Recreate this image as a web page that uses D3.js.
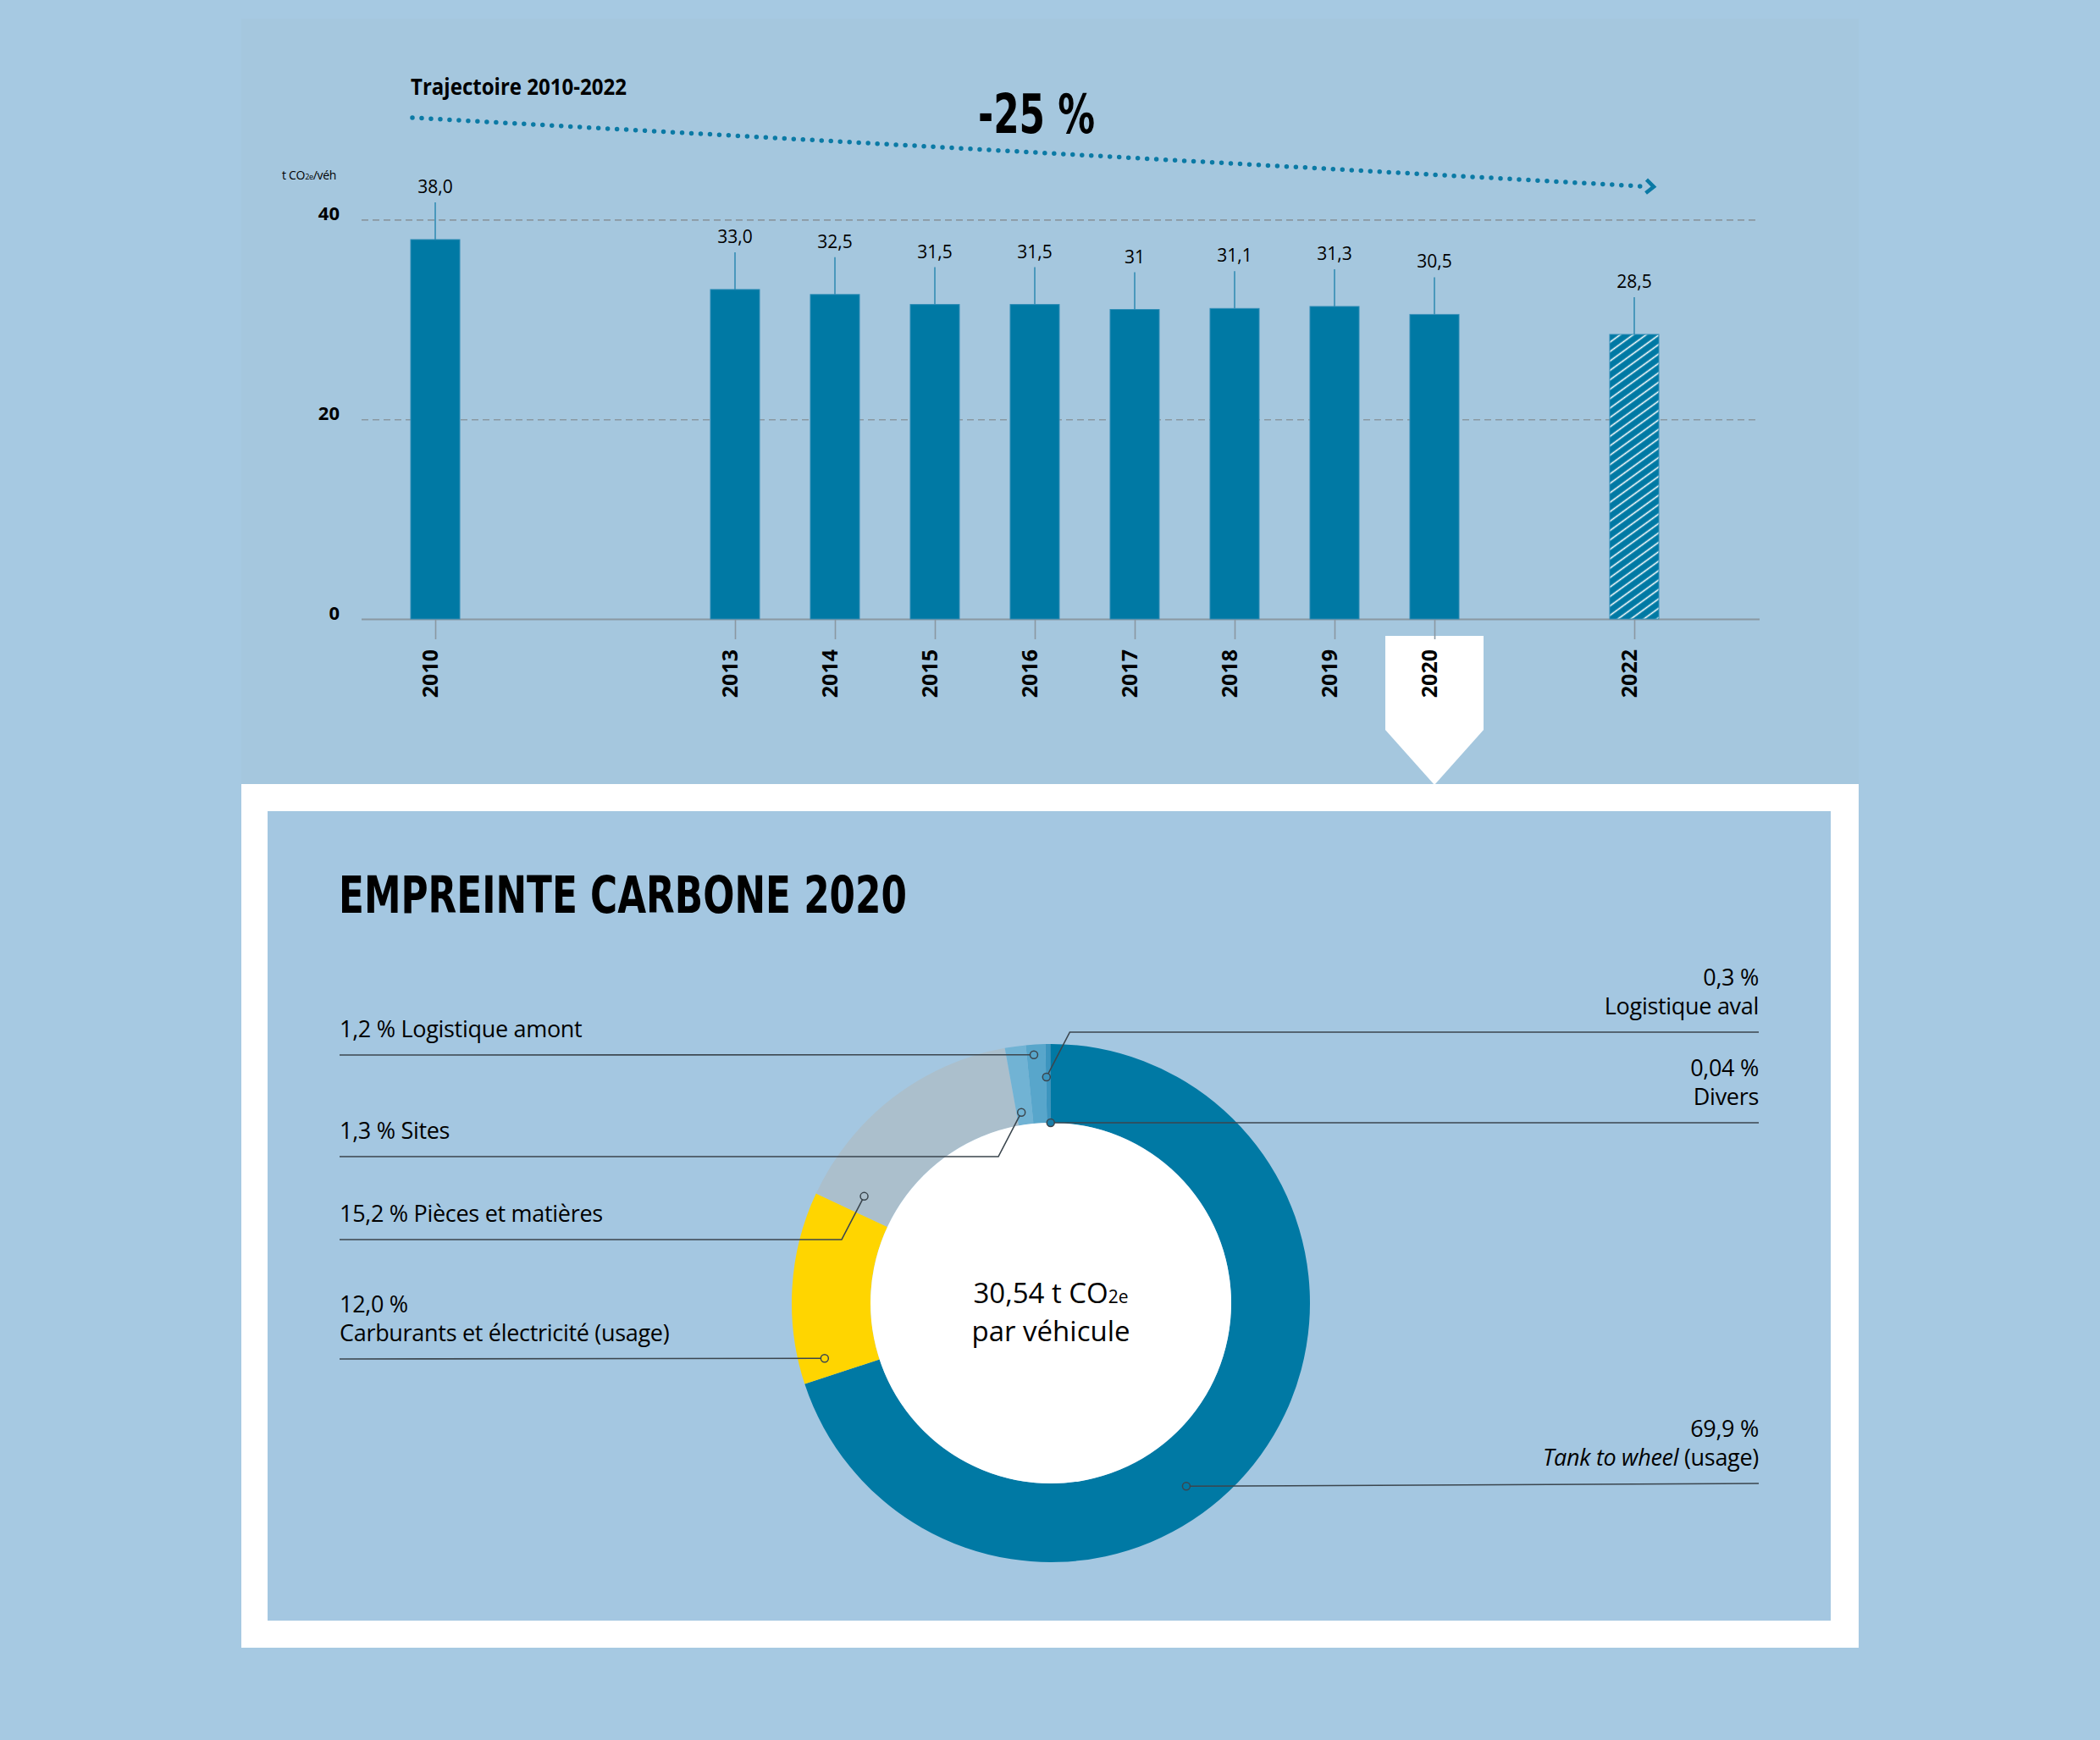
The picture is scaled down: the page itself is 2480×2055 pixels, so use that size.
<!DOCTYPE html>
<html>
<head>
<meta charset="utf-8">
<script src="https://cdnjs.cloudflare.com/ajax/libs/d3/7.8.5/d3.min.js"></script>
<style>
  body { margin: 0; background: #a6c9e2; overflow: hidden; }
  text { font-family: "Open Sans", "Noto Sans", sans-serif; fill: #000; }
  .narrow { font-family: "Liberation Sans Narrow", "DejaVu Sans Condensed", "Open Sans", sans-serif; font-weight: bold; }
</style>
</head>
<body>
<div id="chart"></div>
<script>
// bar chart data (t CO2e per vehicle)
let years = [2010, 2013, 2014, 2015, 2016, 2017, 2018, 2019, 2020, 2022];
let values = [38.0, 33.0, 32.5, 31.5, 31.5, 31, 31.1, 31.3, 30.5, 28.5];
let valueLabels = ["38,0", "33,0", "32,5", "31,5", "31,5", "31", "31,1", "31,3", "30,5", "28,5"];
let yTicks = [0, 20, 40];
let yTickLabels = ["0", "20", "40"];
let targetYear = 2022;
let focusYear = 2020;

// donut data (share of 2020 footprint, %)
let sliceNames = [
  "Tank to wheel (usage)",
  "Carburants et électricité (usage)",
  "Pièces et matières",
  "Sites",
  "Logistique amont",
  "Logistique aval",
  "Divers"
];
let sliceShares = [69.9, 12.0, 15.2, 1.3, 1.2, 0.3, 0.04];
let sliceLabels = ["69,9 %", "12,0 %", "15,2 %", "1,3 %", "1,2 %", "0,3 %", "0,04 %"];

let svgWidth = 2480;
let svgHeight = 2055;

let svg = d3
  .select("#chart")
  .append("svg")
  .attr("width", svgWidth)
  .attr("height", svgHeight);

// backgrounds
svg.append("rect").attr("width", svgWidth).attr("height", svgHeight).attr("fill", "#a6c9e2");
svg.append("rect").attr("x", 285).attr("y", 22).attr("width", 1910).attr("height", 904).attr("fill", "#a5c7de");

// hatch pattern for the 2022 target
let defs = svg.append("defs");
let hatch = defs
  .append("pattern")
  .attr("id", "hatch")
  .attr("patternUnits", "userSpaceOnUse")
  .attr("width", 20)
  .attr("height", 9)
  .attr("patternTransform", "rotate(-36)");
hatch.append("rect").attr("width", 20).attr("height", 9).attr("fill", "#0079a4");
hatch
  .append("line")
  .attr("x1", 0).attr("x2", 20).attr("y1", 4.5).attr("y2", 4.5)
  .attr("stroke", "#fff")
  .attr("stroke-width", 1.6);

// scales
let xScale = d3.scaleLinear().domain([2010, 2022]).range([514, 1930]);
let yScale = d3.scaleLinear().domain([0, 40]).range([731, 259.4]);
let barWidth = 58;
let gridLeft = 427;
let gridRight = 2078;

// white frame of the lower block + pointer from 2020
svg.append("rect").attr("x", 285).attr("y", 926).attr("width", 1910).attr("height", 1020).attr("fill", "#fff");
svg.append("rect").attr("x", 316).attr("y", 958).attr("width", 1846).attr("height", 956).attr("fill", "#a4c7e1");

let px = xScale(focusYear);
svg
  .append("polygon")
  .attr("points", [
    [px - 58, 751], [px + 58, 751], [px + 58, 862], [px, 927], [px - 58, 862]
  ].join(" "))
  .attr("fill", "#fff");

// y axis with grid lines
let leftAxis = d3
  .axisLeft(yScale)
  .tickValues(yTicks)
  .tickSize(-(gridRight - gridLeft))
  .tickPadding(26)
  .tickFormat((d, i) => yTickLabels[i]);

let yAxis = svg
  .append("g")
  .attr("transform", `translate(${gridLeft}, 0)`)
  .call(leftAxis);
yAxis.select(".domain").remove();
yAxis
  .selectAll(".tick line")
  .attr("stroke", "#8a98a1")
  .attr("stroke-width", d => (d === 0 ? 2 : 1.6))
  .attr("stroke-dasharray", d => (d === 0 ? null : "8,5"));
yAxis
  .selectAll(".tick text")
  .attr("dy", 0)
  .attr("font-size", 22)
  .attr("font-weight", "bold")
  .attr("fill", "#000");

// x axis, rotated years
let bottomAxis = d3
  .axisBottom(xScale)
  .tickValues(years)
  .tickSize(24)
  .tickFormat(d3.format("d"));

let xAxis = svg
  .append("g")
  .attr("transform", `translate(0, ${yScale(0)})`)
  .call(bottomAxis);
xAxis.select(".domain").remove();
xAxis.selectAll(".tick line").attr("stroke", "#8a98a1").attr("stroke-width", 1.6);
xAxis
  .selectAll(".tick text")
  .attr("transform", "rotate(-90)")
  .attr("x", -36)
  .attr("y", 2)
  .attr("dy", 0)
  .attr("font-size", 25)
  .attr("font-weight", "bold")
  .attr("fill", d => (d === 2010 ? "#0b7aa5" : "#000"))
  .style("text-anchor", "end");

// bars
let barData = years.map((yr, i) => ({ year: yr, value: values[i], label: valueLabels[i] }));

let bars = svg.append("g");
bars
  .selectAll("rect")
  .data(barData)
  .enter()
  .append("rect")
  .attr("x", d => xScale(d.year) - barWidth / 2)
  .attr("y", d => yScale(d.value))
  .attr("width", barWidth)
  .attr("height", d => yScale(0) - yScale(d.value))
  .attr("fill", d => (d.year === targetYear ? "url(#hatch)" : "#0079a4"))
  .attr("stroke", "#2f8cb5")
  .attr("stroke-width", 1);

bars
  .selectAll("line")
  .data(barData)
  .enter()
  .append("line")
  .attr("x1", d => xScale(d.year))
  .attr("x2", d => xScale(d.year))
  .attr("y1", d => yScale(d.value))
  .attr("y2", d => yScale(d.value) - 44)
  .attr("stroke", "#2d88b1")
  .attr("stroke-width", 1.5);

bars
  .selectAll("text")
  .data(barData)
  .enter()
  .append("text")
  .attr("x", d => xScale(d.year))
  .attr("y", d => yScale(d.value) - 55)
  .attr("text-anchor", "middle")
  .attr("font-size", 21)
  .attr("font-weight", 500)
  .text(d => d.label);

// unit label
let unit = svg.append("text").attr("x", 333).attr("y", 212).attr("font-size", 14).attr("letter-spacing", -0.3);
unit.append("tspan").text("t CO");
unit.append("tspan").attr("font-size", 9).text("2e");
unit.append("tspan").text("/véh");

// trajectory annotation
svg
  .append("text")
  .attr("x", 485)
  .attr("y", 112)
  .attr("font-size", 26)
  .attr("font-weight", "bold")
  .attr("textLength", 255)
  .attr("lengthAdjust", "spacingAndGlyphs")
  .text("Trajectoire 2010-2022");

svg
  .append("line")
  .attr("x1", 487).attr("y1", 139)
  .attr("x2", 1938).attr("y2", 220)
  .attr("stroke", "#0b7aa5")
  .attr("stroke-width", 5.5)
  .attr("stroke-linecap", "round")
  .attr("stroke-dasharray", "0,11");

svg
  .append("path")
  .attr("d", "M-7,-8 L2,0 L-7,8")
  .attr("transform", "translate(1951,220.5) rotate(3.2)")
  .attr("fill", "none")
  .attr("stroke", "#0b7aa5")
  .attr("stroke-width", 4.5);

svg
  .append("text")
  .classed("narrow", true)
  .attr("x", 1155)
  .attr("y", 157)
  .attr("font-size", 64)
  .attr("textLength", 138)
  .attr("lengthAdjust", "spacingAndGlyphs")
  .text("-25 %");

// lower block title
svg
  .append("text")
  .classed("narrow", true)
  .attr("x", 400)
  .attr("y", 1078)
  .attr("font-size", 60)
  .attr("textLength", 671)
  .attr("lengthAdjust", "spacingAndGlyphs")
  .text("EMPREINTE CARBONE 2020");

// donut
let cx = 1241;
let cy = 1539;
let outerR = 306;
let innerR = 213;

let sliceColor = d3
  .scaleOrdinal()
  .domain(sliceNames)
  .range(["#0079a4", "#ffd500", "#abbfcc", "#71b3d4", "#58a6cb", "#3c95bf", "#1a7ea9"]);

let sliceData = sliceNames.map((n, i) => ({ name: n, share: sliceShares[i], label: sliceLabels[i] }));

let pie = d3.pie().sort(null).value(d => d.share);
let arcs = pie(sliceData);
let arc = d3.arc().innerRadius(innerR).outerRadius(outerR);

let donut = svg.append("g").attr("transform", `translate(${cx}, ${cy})`);
donut
  .selectAll("path")
  .data(arcs)
  .enter()
  .append("path")
  .attr("d", arc)
  .attr("fill", d => sliceColor(d.data.name));

donut.append("circle").attr("r", innerR).attr("fill", "#fff");

let centre = donut.append("text").attr("text-anchor", "middle").attr("font-size", 33).attr("font-weight", 500);
let line1 = centre.append("tspan").attr("x", 0).attr("y", 0);
line1.append("tspan").text("30,54 t CO");
line1.append("tspan").attr("font-size", 21).text("2e");
centre.append("tspan").attr("x", 0).attr("y", 45).text("par véhicule");

// leader layout: where each label's rule sits and where its dot lands on the ring
let leaderLayout = [
  { side: "right", lineY: 1752, t: 0.57, r: 269, twoLine: true, italic: "Tank to wheel" },
  { side: "left", lineY: 1605, t: 0.104, r: 275, twoLine: true },
  { side: "left", lineY: 1464, t: 0.087, r: 254, twoLine: false },
  { side: "left", lineY: 1366, t: 0.31, r: 228, twoLine: false },
  { side: "left", lineY: 1246, t: 0.38, r: 294, twoLine: false },
  { side: "right", lineY: 1219, t: 0.1, r: 267, twoLine: true },
  { side: "right", lineY: 1326, t: 0.5, r: 213, twoLine: true }
];
let labelLeft = 401;
let labelRight = 2077;

let leaders = svg.append("g");

arcs.forEach(function(a, i) {
  let lay = leaderLayout[i];
  let ang = a.startAngle + lay.t * (a.endAngle - a.startAngle);
  let dx = cx + lay.r * Math.sin(ang);
  let dy = cy - lay.r * Math.cos(ang);
  let edge = lay.side === "left" ? labelLeft : labelRight;
  let sign = lay.side === "left" ? -1 : 1;
  let gap = Math.abs(lay.lineY - dy);
  let d;
  if (gap > 4) {
    let bendX = dx + sign * gap * 0.52;
    d = `M${edge},${lay.lineY} H${bendX} L${dx},${dy}`;
  } else {
    d = `M${edge},${lay.lineY} L${dx},${dy}`;
  }

  leaders
    .append("path")
    .attr("d", d)
    .attr("fill", "none")
    .attr("stroke", "#3b464e")
    .attr("stroke-width", 1.6);

  leaders
    .append("circle")
    .attr("cx", dx)
    .attr("cy", dy)
    .attr("r", 4.5)
    .attr("fill", sliceColor(a.data.name))
    .attr("stroke", "#3b464e")
    .attr("stroke-width", 1.5);

  let anchor = lay.side === "left" ? "start" : "end";
  if (lay.twoLine) {
    leaders
      .append("text")
      .attr("x", edge)
      .attr("y", lay.lineY - 55)
      .attr("text-anchor", anchor)
      .attr("font-size", 27)
      .attr("font-weight", 500)
      .attr("letter-spacing", -0.3)
      .text(a.data.label);
    let nameText = leaders
      .append("text")
      .attr("x", edge)
      .attr("y", lay.lineY - 21)
      .attr("text-anchor", anchor)
      .attr("font-size", 27)
      .attr("font-weight", 500)
      .attr("letter-spacing", -0.3);
    if (lay.italic) {
      nameText.append("tspan").attr("font-style", "italic").text(lay.italic);
      nameText.append("tspan").text(a.data.name.slice(lay.italic.length));
    } else {
      nameText.text(a.data.name);
    }
  } else {
    leaders
      .append("text")
      .attr("x", edge)
      .attr("y", lay.lineY - 21)
      .attr("text-anchor", anchor)
      .attr("font-size", 27)
      .attr("font-weight", 500)
      .attr("letter-spacing", -0.3)
      .text(`${a.data.label} ${a.data.name}`);
  }
});
</script>
</body>
</html>
